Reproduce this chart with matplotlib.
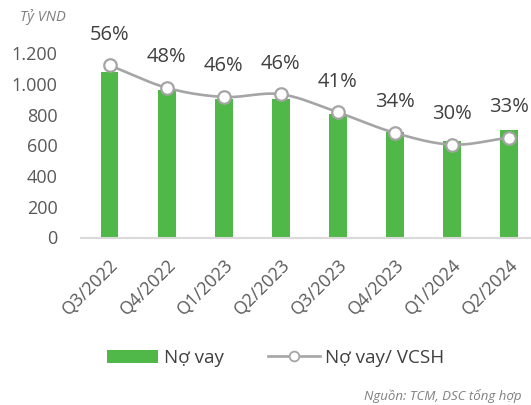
import numpy as np
import matplotlib
matplotlib.use("Agg")
import matplotlib.pyplot as plt
from matplotlib.lines import Line2D
from matplotlib.patches import Patch

plt.rcParams['font.family'] = ['Open Sans', 'DejaVu Sans']

quarters = ["Q3/2022", "Q4/2022", "Q1/2023", "Q2/2023", "Q3/2023", "Q4/2023", "Q1/2024", "Q2/2024"]
debt = [1077, 962, 903, 899, 806, 686, 627, 697]
ratio = [56.0, 48.7, 45.7, 46.6, 40.7, 34.0, 30.2, 32.5]
ratio_labels = ["56%", "48%", "46%", "46%", "41%", "34%", "30%", "33%"]
yticks = [0, 200, 400, 600, 800, 1000, 1200]
ytick_labels = ["0", "200", "400", "600", "800", "1.000", "1.200"]

GREEN = "#50B848"
LINE = "#A5A5A5"
TXT = "#595959"

W, H = 531, 405
fig = plt.figure(figsize=(W / 100, H / 100), dpi=100)
left, right_px = 81, 537.8
bottom_px, top_px = 237.5, 22.25
ax = fig.add_axes([left / W, (H - bottom_px) / H, (right_px - left) / W, (bottom_px - top_px) / H])

x = np.arange(len(quarters))
ax.bar(x, debt, width=0.31, color=GREEN, zorder=2)
ax.set_xlim(-0.5, len(quarters) - 0.5)
ax.set_ylim(0, 1400)
ax.set_yticks(yticks)
ax.set_yticklabels(ytick_labels, fontsize=13, color=TXT)
ax.set_xticks(x)
ax.set_xticklabels(quarters, rotation=45, ha='right', va='top', rotation_mode='anchor',
                   fontsize=12.8, color=TXT)
ax.tick_params(axis='y', length=0, pad=17)
ax.tick_params(axis='x', length=0, pad=13)
for s in ['top', 'right', 'left']:
    ax.spines[s].set_visible(False)
ax.spines['bottom'].set_color('#D9D9D9')
ax.spines['bottom'].set_linewidth(1.5)

ax2 = ax.twinx()
ax2.set_ylim(0, 70)
ax2.axis('off')


def catmull_rom(xs, ys, n=20):
    xs = np.asarray(xs, float)
    ys = np.asarray(ys, float)
    px = np.concatenate([[2 * xs[0] - xs[1]], xs, [2 * xs[-1] - xs[-2]]])
    py = np.concatenate([[2 * ys[0] - ys[1]], ys, [2 * ys[-1] - ys[-2]]])
    ox, oy = [], []
    for i in range(1, len(px) - 2):
        t = np.linspace(0, 1, n, endpoint=False)
        for arr, out in ((px, ox), (py, oy)):
            p0, p1, p2, p3 = arr[i - 1], arr[i], arr[i + 1], arr[i + 2]
            out.extend(0.5 * ((2 * p1) + (-p0 + p2) * t + (2 * p0 - 5 * p1 + 4 * p2 - p3) * t ** 2
                              + (-p0 + 3 * p1 - 3 * p2 + p3) * t ** 3))
    ox.append(xs[-1]); oy.append(ys[-1])
    return np.array(ox), np.array(oy)


sx, sy = catmull_rom(x, ratio)
ax2.plot(sx, sy, color=LINE, lw=1.9, zorder=3)
ax2.plot(x, ratio, ls='none', marker='o', ms=9, mfc='white', mec=LINE, mew=1.6, zorder=4)
for xi, v, lab in zip(x, ratio, ratio_labels):
    ax2.annotate(lab, (xi, v), xytext=(0, 22), textcoords='offset points',
                 ha='center', va='center', fontsize=14.5, color='#404040', clip_on=False)

fig.text(20 / W, 1 - 17 / H, "Tỷ VND", fontsize=10.5, style='italic', color='#7F7F7F',
         ha='left', va='center')
fig.text(522 / W, 1 - 396 / H, "Nguồn: TCM, DSC tổng hợp", fontsize=9.5, style='italic',
         color='#7F7F7F', ha='right', va='center')

handles = [Patch(facecolor=GREEN, edgecolor='none'),
           Line2D([0], [0], color=LINE, lw=1.9, marker='o', ms=7, mfc='white', mec=LINE, mew=1.3)]
fig.legend(handles, ["Nợ vay", "Nợ vay/ VCSH"], loc='center', bbox_to_anchor=(275.5 / W, 1 - 358 / H),
           ncol=2, frameon=False, fontsize=13.6, handlelength=2.75, handleheight=0.68,
           columnspacing=2.3, handletextpad=0.3, labelcolor='#404040')

fig.savefig("out.png", dpi=100)
